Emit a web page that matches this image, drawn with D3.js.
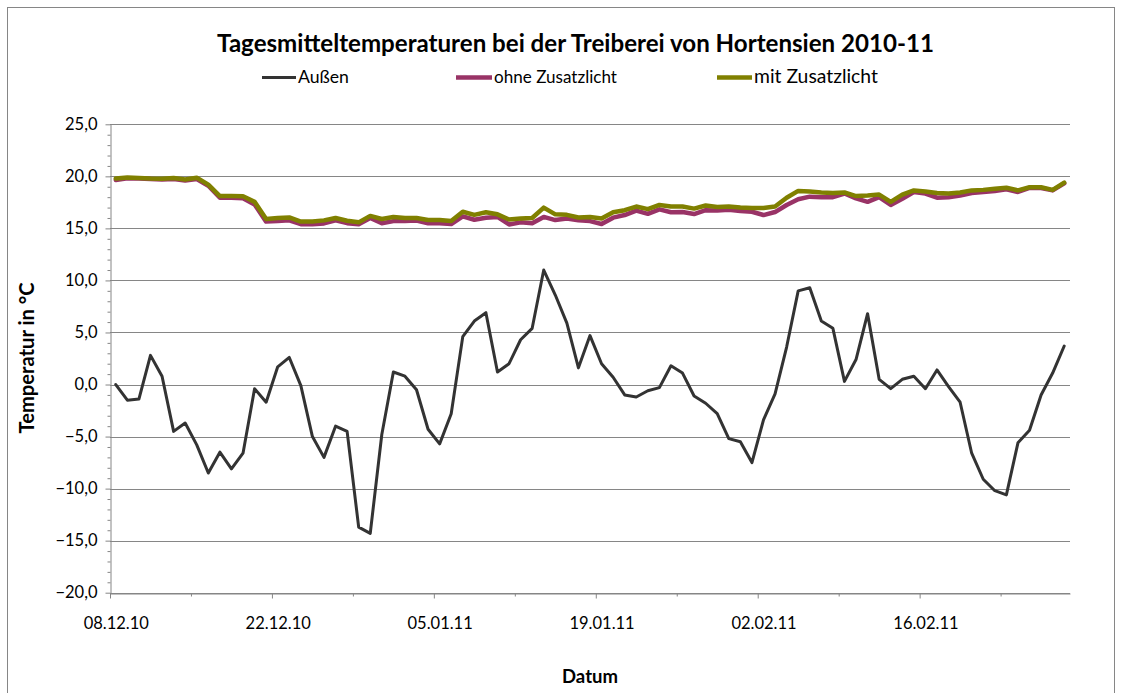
<!DOCTYPE html>
<html><head><meta charset="utf-8">
<script src="https://cdn.jsdelivr.net/npm/d3@7"></script>
<style>body{margin:0;background:#fff} svg{display:block}</style>
</head><body>
<svg id="c" width="1122" height="693"></svg>
<script>
const startDate = "2010-12-08";
const seriesNames = ["Außen", "ohne Zusatzlicht", "mit Zusatzlicht"];
const aussen = [0.0,-1.5,-1.4,2.8,0.8,-4.5,-3.7,-5.8,-8.5,-6.5,-8.1,-6.6,-0.4,-1.7,1.7,2.6,-0.1,-5.0,-7.0,-4.0,-4.5,-13.7,-14.3,-4.8,1.2,0.8,-0.5,-4.3,-5.7,-2.8,4.6,6.1,6.9,1.2,2.0,4.3,5.4,11.0,8.6,5.9,1.6,4.7,2.0,0.7,-1.0,-1.2,-0.6,-0.3,1.8,1.1,-1.1,-1.8,-2.8,-5.2,-5.5,-7.5,-3.4,-0.9,3.6,9.0,9.3,6.1,5.4,0.3,2.4,6.8,0.5,-0.4,0.5,0.8,-0.4,1.4,-0.2,-1.7,-6.6,-9.1,-10.2,-10.6,-5.6,-4.4,-1.0,1.1,3.7];
const ohne = [19.65,19.82,19.8,19.75,19.7,19.75,19.6,19.75,19.1,17.95,17.95,17.9,17.3,15.65,15.7,15.77,15.4,15.4,15.48,15.77,15.5,15.4,16.0,15.5,15.7,15.7,15.75,15.5,15.5,15.42,16.15,15.83,16.03,16.1,15.38,15.58,15.5,16.1,15.8,15.95,15.77,15.7,15.42,16.03,16.28,16.7,16.4,16.83,16.55,16.57,16.38,16.75,16.73,16.8,16.67,16.6,16.28,16.57,17.25,17.8,18.05,18.0,18.0,18.35,17.88,17.55,18.0,17.25,17.85,18.5,18.35,17.95,18.0,18.15,18.4,18.5,18.6,18.75,18.5,18.9,18.88,18.65,19.33];
const mit = [19.8,19.9,19.85,19.8,19.78,19.84,19.7,19.87,19.2,18.1,18.1,18.08,17.55,15.9,16.0,16.05,15.65,15.67,15.77,16.0,15.74,15.58,16.2,15.9,16.1,16.0,16.0,15.8,15.8,15.7,16.6,16.3,16.55,16.35,15.85,15.95,16.0,17.0,16.35,16.3,16.05,16.1,15.95,16.55,16.75,17.1,16.85,17.25,17.1,17.1,16.9,17.2,17.05,17.1,17.0,16.95,16.95,17.1,17.95,18.6,18.55,18.45,18.4,18.45,18.1,18.15,18.25,17.55,18.25,18.65,18.55,18.4,18.35,18.45,18.65,18.7,18.8,18.9,18.65,18.95,18.95,18.7,19.4];
const yTicks = [-20,-15,-10,-5,0,5,10,15,20,25];
const xMajorDays = [0,14,28,42,56,70];
const xMinorDays = [7,21,35,49,63,77];

const FONT = "Lato, 'Open Sans', sans-serif";
const svg = d3.select("#c");
const start = d3.utcParse("%Y-%m-%d")(startDate);
const dates = aussen.map((_, i) => d3.utcHour.offset(d3.utcDay.offset(start, i), 12));
const end = d3.utcDay.offset(start, aussen.length);

const L = 110, R = 1070, T = 124.3, B = 592.7;
const x = d3.scaleUtc().domain([start, end]).range([L, R]);
const y = d3.scaleLinear().domain([-20, 25]).range([B, T]);
const loc = d3.formatLocale({decimal: ",", thousands: ".", grouping: [3], currency: ["", "€"]});
const fmt = loc.format(".1f");
const dayPx = x(d3.utcDay.offset(start, 1)) - x(start);

// outer border
svg.append("rect").attr("x", 7.5).attr("y", 7.5).attr("width", 1107).attr("height", 720)
  .attr("fill", "#fff").attr("stroke", "#868686").attr("stroke-width", 1);

// gridlines
svg.append("g").selectAll("line").data(yTicks).join("line")
  .attr("x1", L).attr("x2", R)
  .attr("y1", d => Math.round(y(d)) + 0.5).attr("y2", d => Math.round(y(d)) + 0.5)
  .attr("stroke", "#868686").attr("stroke-width", 1);

// y axis minor
const yMinor = d3.range(-20, 25, 1).filter(v => v % 5 !== 0);
svg.append("g").attr("transform", `translate(${L + 0.5},0)`)
  .call(d3.axisLeft(y).tickValues(yMinor).tickSize(3).tickFormat(""))
  .call(g => g.select(".domain").remove())
  .call(g => g.selectAll("line").attr("stroke", "#868686"));
// y axis major
svg.append("g").attr("transform", `translate(${L + 0.5},0)`)
  .call(d3.axisLeft(y).tickValues(yTicks).tickSize(5).tickSizeOuter(0).tickPadding(8).tickFormat(fmt))
  .call(g => g.select(".domain").attr("stroke", "#868686"))
  .call(g => g.selectAll(".tick line").attr("stroke", "#868686"))
  .call(g => g.selectAll("text").attr("font-family", FONT).attr("font-size", 16.5).attr("fill", "#000"));

// x axis
const xAxisG = svg.append("g").attr("transform", `translate(0,${Math.round(B) + 0.5})`);
xAxisG.call(d3.axisBottom(x).tickValues(xMinorDays.map(d => d3.utcDay.offset(start, d))).tickSize(3).tickFormat(""))
  .call(g => g.select(".domain").remove())
  .call(g => g.selectAll("line").attr("stroke", "#868686"));
const xAxisM = svg.append("g").attr("transform", `translate(0,${Math.round(B) + 0.5})`);
xAxisM.call(d3.axisBottom(x).tickValues(xMajorDays.map(d => d3.utcDay.offset(start, d)))
    .tickSize(5).tickSizeOuter(0).tickPadding(19).tickFormat(d3.utcFormat("%d.%m.%y")))
  .call(g => g.select(".domain").attr("stroke", "#868686"))
  .call(g => g.selectAll(".tick line").attr("stroke", "#868686"))
  .call(g => g.selectAll("text").attr("font-family", FONT).attr("font-size", 16.5).attr("fill", "#000")
      .attr("dx", dayPx / 2));

// lines
const line = d3.line().x((d, i) => x(dates[i])).y(d => y(d)).curve(d3.curveLinear);
const series = [
  {name: seriesNames[0], vals: aussen, color: "#333333", w: 3},
  {name: seriesNames[1], vals: ohne, color: "#993366", w: 4.5},
  {name: seriesNames[2], vals: mit, color: "#808000", w: 4.5}
];
svg.append("g").selectAll("path").data(series).join("path")
  .attr("d", s => line(s.vals)).attr("fill", "none")
  .attr("stroke", s => s.color).attr("stroke-width", s => s.w)
  .attr("stroke-linejoin", "round").attr("stroke-linecap", "round");

function fit(sel, target) {
  const w = sel.node().getComputedTextLength();
  const fs = parseFloat(sel.attr("font-size"));
  sel.attr("font-size", fs * target / w);
}

// title
const title = svg.append("text").attr("x", 575.5).attr("y", 52).attr("text-anchor", "middle")
  .attr("font-family", FONT).attr("font-weight", "bold").attr("font-size", 20).attr("fill", "#000")
  .text("Tagesmitteltemperaturen bei der Treiberei von Hortensien 2010-11");
fit(title, 717);

// legend
const legendPos = [{x1: 262, x2: 296, tx: 298, tw: 51}, {x1: 456, x2: 492, tx: 494, tw: 123}, {x1: 717, x2: 752, tx: 754, tw: 124}];
series.forEach((s, i) => {
  const p = legendPos[i];
  svg.append("line").attr("x1", p.x1).attr("x2", p.x2).attr("y1", 77.5).attr("y2", 77.5)
    .attr("stroke", s.color).attr("stroke-width", s.w);
  const t = svg.append("text").attr("x", p.tx).attr("y", 83).attr("font-family", FONT)
    .attr("font-size", 16).attr("fill", "#000").text(s.name);
  fit(t, p.tw);
});

// axis titles
const yt = svg.append("text").attr("transform", "translate(34,358) rotate(-90)").attr("text-anchor", "middle")
  .attr("font-family", FONT).attr("font-weight", "bold").attr("font-size", 17).attr("fill", "#000")
  .text("Temperatur in °C");
fit(yt, 151);
const xt = svg.append("text").attr("x", 590).attr("y", 683).attr("text-anchor", "middle")
  .attr("font-family", FONT).attr("font-weight", "bold").attr("font-size", 17).attr("fill", "#000")
  .text("Datum");
fit(xt, 56);
</script>
</body></html>
